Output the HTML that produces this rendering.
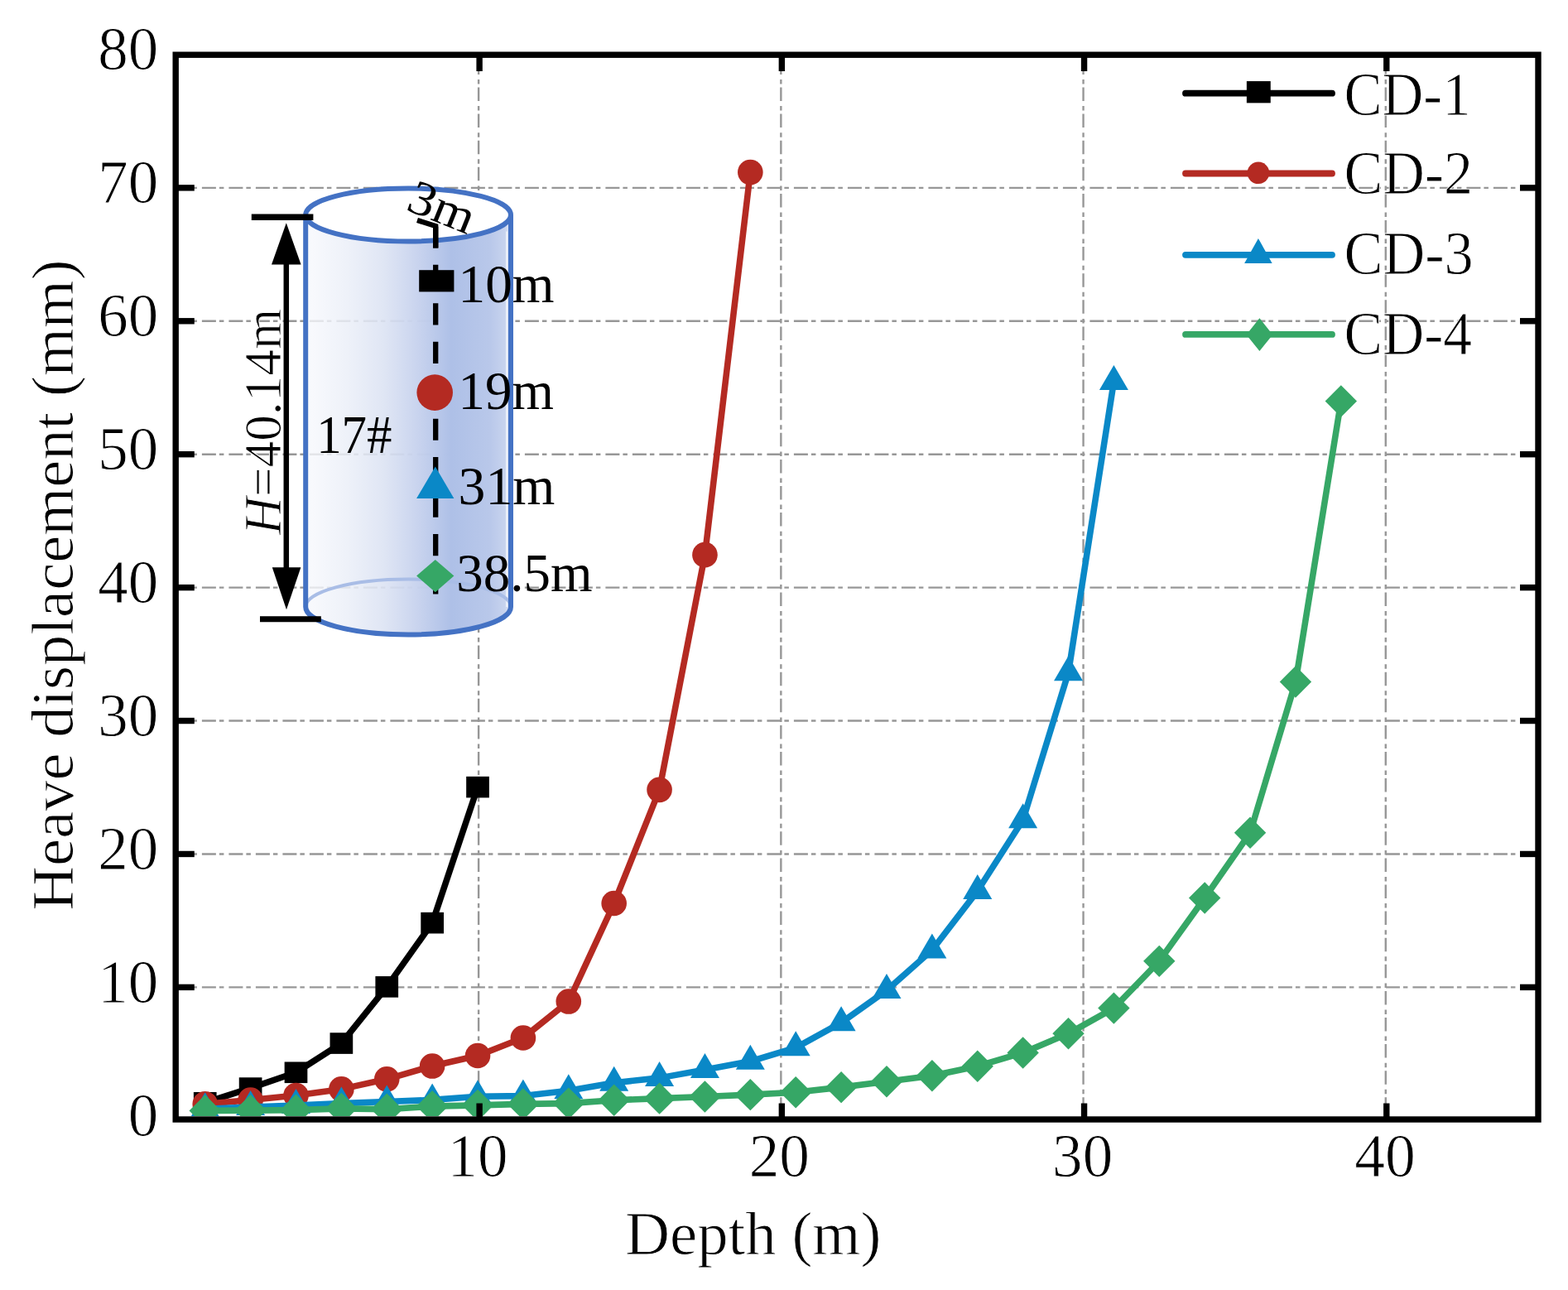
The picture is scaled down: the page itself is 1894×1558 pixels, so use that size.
<!DOCTYPE html><html><head><meta charset="utf-8"><title>Heave displacement vs depth</title><style>html,body{margin:0;padding:0;background:#fff;}body{width:1894px;height:1558px;overflow:hidden;}</style></head><body><svg width="1894" height="1558" viewBox="0 0 1894 1558" style="display:block;font-family:'Liberation Serif',serif">
<defs>
<linearGradient id="cg" x1="0" y1="0" x2="1" y2="0"><stop offset="0" stop-color="#F8F9FD" stop-opacity="0.8"/><stop offset="0.2" stop-color="#EBEFF8" stop-opacity="0.85"/><stop offset="0.38" stop-color="#DCE3F3" stop-opacity="0.9"/><stop offset="0.54" stop-color="#C8D3EE" stop-opacity="0.97"/><stop offset="0.71" stop-color="#AEC0E7"/><stop offset="0.9" stop-color="#B9C8EA"/><stop offset="0.97" stop-color="#C7D3EE"/><stop offset="1" stop-color="#E4EAF7"/></linearGradient>
<style>.t{stroke:#fff;stroke-width:0.9px;paint-order:normal}</style>
<clipPath id="plotclip"><rect x="216" y="70" width="1638" height="1278"/></clipPath>
</defs>
<rect width="1894" height="1558" fill="#fff"/>
<line x1="211.4" y1="1192.38" x2="1854" y2="1192.38" stroke="#979797" stroke-width="2.4" stroke-dasharray="17 4 5.5 6"/>
<line x1="211.4" y1="1031.46" x2="1854" y2="1031.46" stroke="#979797" stroke-width="2.4" stroke-dasharray="17 4 5.5 6"/>
<line x1="211.4" y1="870.54" x2="1854" y2="870.54" stroke="#979797" stroke-width="2.4" stroke-dasharray="17 4 5.5 6"/>
<line x1="211.4" y1="709.62" x2="1854" y2="709.62" stroke="#979797" stroke-width="2.4" stroke-dasharray="17 4 5.5 6"/>
<line x1="211.4" y1="548.70" x2="1854" y2="548.70" stroke="#979797" stroke-width="2.4" stroke-dasharray="17 4 5.5 6"/>
<line x1="211.4" y1="387.78" x2="1854" y2="387.78" stroke="#979797" stroke-width="2.4" stroke-dasharray="17 4 5.5 6"/>
<line x1="211.4" y1="226.86" x2="1854" y2="226.86" stroke="#979797" stroke-width="2.4" stroke-dasharray="17 4 5.5 6"/>
<line x1="578.12" y1="1341.8" x2="578.12" y2="70" stroke="#979797" stroke-width="2.4" stroke-dasharray="16.5 4 5.5 6.1"/>
<line x1="943.34" y1="1341.8" x2="943.34" y2="70" stroke="#979797" stroke-width="2.4" stroke-dasharray="16.5 4 5.5 6.1"/>
<line x1="1308.56" y1="1341.8" x2="1308.56" y2="70" stroke="#979797" stroke-width="2.4" stroke-dasharray="16.5 4 5.5 6.1"/>
<line x1="1673.78" y1="1341.8" x2="1673.78" y2="70" stroke="#979797" stroke-width="2.4" stroke-dasharray="16.5 4 5.5 6.1"/>
<path d="M369.2,259.5 L369.2,733.0 A123.9,33.5 0 0 0 617.0,733.0 L617.0,259.5 Z" fill="url(#cg)"/>
<line x1="612.0" y1="279.5" x2="612.0" y2="733.0" stroke="#fff" stroke-opacity="0.6" stroke-width="2"/>
<path d="M369.2,733.0 A123.9,33.5 0 0 1 617.0,733.0" fill="none" stroke="#A9BDE6" stroke-width="4"/>
<ellipse cx="493.1" cy="259.5" rx="123.9" ry="32.0" fill="#fff"/>
<path d="M369.2,259.5 L369.2,733.0 A123.9,33.5 0 0 0 617.0,733.0 L617.0,259.5" fill="none" stroke="#4472C4" stroke-width="6" stroke-linejoin="round"/>
<ellipse cx="493.1" cy="259.5" rx="123.9" ry="32.0" fill="none" stroke="#4472C4" stroke-width="6"/>
<line x1="303.8" y1="262.2" x2="378.4" y2="262.2" stroke="#000" stroke-width="7.5"/>
<line x1="314" y1="747.8" x2="387.8" y2="747.8" stroke="#000" stroke-width="7"/>
<line x1="345.8" y1="300" x2="345.8" y2="705" stroke="#000" stroke-width="6.5"/>
<polygon points="345.8,269.2 363.6,319.5 328.0,319.5" fill="#000"/>
<polygon points="346.0,736.3 363.4,685.2 328.8,685.2" fill="#000"/>
<polyline points="504,266 526.2,273 526.2,299.5" fill="none" stroke="#000" stroke-width="6.3" stroke-linejoin="miter"/>
<line x1="526.2" y1="273.4" x2="526.2" y2="717.5" stroke="#000" stroke-width="6.3" stroke-dasharray="26.2 20.25"/>
<rect x="506.2" y="326.2" width="42.2" height="26.2" fill="#000"/>
<circle cx="525.2" cy="474.1" r="21.8" fill="#B42A22"/>
<polygon points="525.8,563.4 548.4,602 503.1,602" fill="#0A88C7"/>
<polygon points="525.8,675.9 548.4,695.6 525.8,715.3 503.1,695.6" fill="#36A766"/>
<g clip-path="url(#plotclip)">
<polyline points="247.73,1331.79 302.61,1314.10 357.50,1295.28 412.38,1260.06 467.26,1191.87 522.15,1114.67 577.03,950.63" fill="none" stroke="#000000" stroke-width="7.6" stroke-linejoin="round" stroke-linecap="round"/>
<rect x="233.88" y="1318.99" width="27.7" height="25.6" fill="#000000"/>
<rect x="288.76" y="1301.30" width="27.7" height="25.6" fill="#000000"/>
<rect x="343.65" y="1282.48" width="27.7" height="25.6" fill="#000000"/>
<rect x="398.53" y="1247.26" width="27.7" height="25.6" fill="#000000"/>
<rect x="453.41" y="1179.07" width="27.7" height="25.6" fill="#000000"/>
<rect x="508.30" y="1101.87" width="27.7" height="25.6" fill="#000000"/>
<rect x="563.18" y="937.83" width="27.7" height="25.6" fill="#000000"/>
<polyline points="247.73,1333.40 302.61,1328.58 357.50,1322.95 412.38,1315.39 467.26,1303.33 522.15,1287.56 577.03,1275.02 631.91,1253.47 686.80,1209.56 741.68,1091.03 796.56,953.84 851.45,670.14 906.33,208.07" fill="none" stroke="#B42A22" stroke-width="7.6" stroke-linejoin="round" stroke-linecap="round"/>
<circle cx="247.73" cy="1333.40" r="15.3" fill="#B42A22"/>
<circle cx="302.61" cy="1328.58" r="15.3" fill="#B42A22"/>
<circle cx="357.50" cy="1322.95" r="15.3" fill="#B42A22"/>
<circle cx="412.38" cy="1315.39" r="15.3" fill="#B42A22"/>
<circle cx="467.26" cy="1303.33" r="15.3" fill="#B42A22"/>
<circle cx="522.15" cy="1287.56" r="15.3" fill="#B42A22"/>
<circle cx="577.03" cy="1275.02" r="15.3" fill="#B42A22"/>
<circle cx="631.91" cy="1253.47" r="15.3" fill="#B42A22"/>
<circle cx="686.80" cy="1209.56" r="15.3" fill="#B42A22"/>
<circle cx="741.68" cy="1091.03" r="15.3" fill="#B42A22"/>
<circle cx="796.56" cy="953.84" r="15.3" fill="#B42A22"/>
<circle cx="851.45" cy="670.14" r="15.3" fill="#B42A22"/>
<circle cx="906.33" cy="208.07" r="15.3" fill="#B42A22"/>
<polyline points="247.73,1339.19 302.61,1337.10 357.50,1335.01 412.38,1332.60 467.26,1330.51 522.15,1328.41 577.03,1324.23 631.91,1323.59 686.80,1317.16 741.68,1307.67 796.56,1301.88 851.45,1291.91 906.33,1281.77 961.21,1265.37 1016.10,1235.13 1070.98,1196.05 1125.86,1147.48 1180.75,1076.07 1235.63,990.35 1290.52,812.31 1345.40,460.90" fill="none" stroke="#0A88C7" stroke-width="7.6" stroke-linejoin="round" stroke-linecap="round"/>
<polygon points="247.73,1319.19 265.23,1349.19 230.23,1349.19" fill="#0A88C7"/>
<polygon points="302.61,1317.10 320.11,1347.10 285.11,1347.10" fill="#0A88C7"/>
<polygon points="357.50,1315.01 375.00,1345.01 340.00,1345.01" fill="#0A88C7"/>
<polygon points="412.38,1312.60 429.88,1342.60 394.88,1342.60" fill="#0A88C7"/>
<polygon points="467.26,1310.51 484.76,1340.51 449.76,1340.51" fill="#0A88C7"/>
<polygon points="522.15,1308.41 539.65,1338.41 504.65,1338.41" fill="#0A88C7"/>
<polygon points="577.03,1304.23 594.53,1334.23 559.53,1334.23" fill="#0A88C7"/>
<polygon points="631.91,1303.59 649.41,1333.59 614.41,1333.59" fill="#0A88C7"/>
<polygon points="686.80,1297.16 704.30,1327.16 669.30,1327.16" fill="#0A88C7"/>
<polygon points="741.68,1287.67 759.18,1317.67 724.18,1317.67" fill="#0A88C7"/>
<polygon points="796.56,1281.88 814.06,1311.88 779.06,1311.88" fill="#0A88C7"/>
<polygon points="851.45,1271.91 868.95,1301.91 833.95,1301.91" fill="#0A88C7"/>
<polygon points="906.33,1261.77 923.83,1291.77 888.83,1291.77" fill="#0A88C7"/>
<polygon points="961.21,1245.37 978.71,1275.37 943.71,1275.37" fill="#0A88C7"/>
<polygon points="1016.10,1215.13 1033.60,1245.13 998.60,1245.13" fill="#0A88C7"/>
<polygon points="1070.98,1176.05 1088.48,1206.05 1053.48,1206.05" fill="#0A88C7"/>
<polygon points="1125.86,1127.48 1143.36,1157.48 1108.36,1157.48" fill="#0A88C7"/>
<polygon points="1180.75,1056.07 1198.25,1086.07 1163.25,1086.07" fill="#0A88C7"/>
<polygon points="1235.63,970.35 1253.13,1000.35 1218.13,1000.35" fill="#0A88C7"/>
<polygon points="1290.52,792.31 1308.02,822.31 1273.02,822.31" fill="#0A88C7"/>
<polygon points="1345.40,440.90 1362.90,470.90 1327.90,470.90" fill="#0A88C7"/>
<polyline points="247.73,1341.44 302.61,1341.12 357.50,1340.64 412.38,1338.87 467.26,1339.67 522.15,1336.13 577.03,1334.85 631.91,1333.40 686.80,1332.60 741.68,1328.74 796.56,1326.65 851.45,1324.55 906.33,1322.14 961.21,1319.25 1016.10,1313.14 1070.98,1306.22 1125.86,1299.30 1180.75,1287.72 1235.63,1271.48 1290.52,1248.32 1345.40,1217.60 1400.28,1160.83 1455.17,1084.44 1510.05,1005.79 1564.93,823.57 1619.82,484.54" fill="none" stroke="#36A766" stroke-width="7.6" stroke-linejoin="round" stroke-linecap="round"/>
<polygon points="247.73,1322.24 266.93,1341.44 247.73,1360.64 228.53,1341.44" fill="#36A766"/>
<polygon points="302.61,1321.92 321.81,1341.12 302.61,1360.32 283.41,1341.12" fill="#36A766"/>
<polygon points="357.50,1321.44 376.70,1340.64 357.50,1359.84 338.30,1340.64" fill="#36A766"/>
<polygon points="412.38,1319.67 431.58,1338.87 412.38,1358.07 393.18,1338.87" fill="#36A766"/>
<polygon points="467.26,1320.47 486.46,1339.67 467.26,1358.87 448.06,1339.67" fill="#36A766"/>
<polygon points="522.15,1316.93 541.35,1336.13 522.15,1355.33 502.95,1336.13" fill="#36A766"/>
<polygon points="577.03,1315.65 596.23,1334.85 577.03,1354.05 557.83,1334.85" fill="#36A766"/>
<polygon points="631.91,1314.20 651.11,1333.40 631.91,1352.60 612.71,1333.40" fill="#36A766"/>
<polygon points="686.80,1313.40 706.00,1332.60 686.80,1351.80 667.60,1332.60" fill="#36A766"/>
<polygon points="741.68,1309.54 760.88,1328.74 741.68,1347.94 722.48,1328.74" fill="#36A766"/>
<polygon points="796.56,1307.45 815.76,1326.65 796.56,1345.85 777.36,1326.65" fill="#36A766"/>
<polygon points="851.45,1305.35 870.65,1324.55 851.45,1343.75 832.25,1324.55" fill="#36A766"/>
<polygon points="906.33,1302.94 925.53,1322.14 906.33,1341.34 887.13,1322.14" fill="#36A766"/>
<polygon points="961.21,1300.05 980.41,1319.25 961.21,1338.45 942.01,1319.25" fill="#36A766"/>
<polygon points="1016.10,1293.94 1035.30,1313.14 1016.10,1332.34 996.90,1313.14" fill="#36A766"/>
<polygon points="1070.98,1287.02 1090.18,1306.22 1070.98,1325.42 1051.78,1306.22" fill="#36A766"/>
<polygon points="1125.86,1280.10 1145.06,1299.30 1125.86,1318.50 1106.66,1299.30" fill="#36A766"/>
<polygon points="1180.75,1268.52 1199.95,1287.72 1180.75,1306.92 1161.55,1287.72" fill="#36A766"/>
<polygon points="1235.63,1252.28 1254.83,1271.48 1235.63,1290.68 1216.43,1271.48" fill="#36A766"/>
<polygon points="1290.52,1229.12 1309.72,1248.32 1290.52,1267.52 1271.32,1248.32" fill="#36A766"/>
<polygon points="1345.40,1198.40 1364.60,1217.60 1345.40,1236.80 1326.20,1217.60" fill="#36A766"/>
<polygon points="1400.28,1141.63 1419.48,1160.83 1400.28,1180.03 1381.08,1160.83" fill="#36A766"/>
<polygon points="1455.17,1065.24 1474.37,1084.44 1455.17,1103.64 1435.97,1084.44" fill="#36A766"/>
<polygon points="1510.05,986.59 1529.25,1005.79 1510.05,1024.99 1490.85,1005.79" fill="#36A766"/>
<polygon points="1564.93,804.37 1584.13,823.57 1564.93,842.77 1545.73,823.57" fill="#36A766"/>
<polygon points="1619.82,465.34 1639.02,484.54 1619.82,503.74 1600.62,484.54" fill="#36A766"/>
</g>
<rect x="212.2" y="66.2" width="1645.8" height="1285.8" fill="none" stroke="#000" stroke-width="7.4"/>
<line x1="212.2" y1="1192.38" x2="234.8" y2="1192.38" stroke="#000" stroke-width="7.4"/>
<line x1="1858.0" y1="1192.38" x2="1836" y2="1192.38" stroke="#000" stroke-width="7.4"/>
<line x1="212.2" y1="1031.46" x2="234.8" y2="1031.46" stroke="#000" stroke-width="7.4"/>
<line x1="1858.0" y1="1031.46" x2="1836" y2="1031.46" stroke="#000" stroke-width="7.4"/>
<line x1="212.2" y1="870.54" x2="234.8" y2="870.54" stroke="#000" stroke-width="7.4"/>
<line x1="1858.0" y1="870.54" x2="1836" y2="870.54" stroke="#000" stroke-width="7.4"/>
<line x1="212.2" y1="709.62" x2="234.8" y2="709.62" stroke="#000" stroke-width="7.4"/>
<line x1="1858.0" y1="709.62" x2="1836" y2="709.62" stroke="#000" stroke-width="7.4"/>
<line x1="212.2" y1="548.70" x2="234.8" y2="548.70" stroke="#000" stroke-width="7.4"/>
<line x1="1858.0" y1="548.70" x2="1836" y2="548.70" stroke="#000" stroke-width="7.4"/>
<line x1="212.2" y1="387.78" x2="234.8" y2="387.78" stroke="#000" stroke-width="7.4"/>
<line x1="1858.0" y1="387.78" x2="1836" y2="387.78" stroke="#000" stroke-width="7.4"/>
<line x1="212.2" y1="226.86" x2="234.8" y2="226.86" stroke="#000" stroke-width="7.4"/>
<line x1="1858.0" y1="226.86" x2="1836" y2="226.86" stroke="#000" stroke-width="7.4"/>
<line x1="579.12" y1="1352.0" x2="579.12" y2="1332.5" stroke="#000" stroke-width="7.4"/>
<line x1="579.12" y1="66.2" x2="579.12" y2="86" stroke="#000" stroke-width="7.4"/>
<line x1="944.34" y1="1352.0" x2="944.34" y2="1332.5" stroke="#000" stroke-width="7.4"/>
<line x1="944.34" y1="66.2" x2="944.34" y2="86" stroke="#000" stroke-width="7.4"/>
<line x1="1309.56" y1="1352.0" x2="1309.56" y2="1332.5" stroke="#000" stroke-width="7.4"/>
<line x1="1309.56" y1="66.2" x2="1309.56" y2="86" stroke="#000" stroke-width="7.4"/>
<line x1="1674.78" y1="1352.0" x2="1674.78" y2="1332.5" stroke="#000" stroke-width="7.4"/>
<line x1="1674.78" y1="66.2" x2="1674.78" y2="86" stroke="#000" stroke-width="7.4"/>
<line x1="1432" y1="112.7" x2="1609" y2="112.7" stroke="#000000" stroke-width="7.8" stroke-linecap="round"/>
<rect x="1505.85" y="98.05" width="28.9" height="26.3" fill="#000000"/>
<text transform="translate(1623.57,139.00) scale(0.9321,1)" style="font-size:74px" fill="#000" class="t" >CD-1</text>
<line x1="1432" y1="209.5" x2="1609" y2="209.5" stroke="#B42A22" stroke-width="7.8" stroke-linecap="round"/>
<circle cx="1519.90" cy="208.80" r="13.3" fill="#B42A22"/>
<text transform="translate(1623.53,234.00) scale(0.9465,1)" style="font-size:74px" fill="#000" class="t" >CD-2</text>
<line x1="1432" y1="307.8" x2="1609" y2="307.8" stroke="#0A88C7" stroke-width="7.8" stroke-linecap="round"/>
<polygon points="1519.90,287.90 1536.65,317.90 1503.15,317.90" fill="#0A88C7"/>
<text transform="translate(1623.52,331.30) scale(0.9501,1)" style="font-size:74px" fill="#000" class="t" >CD-3</text>
<line x1="1432" y1="403.9" x2="1609" y2="403.9" stroke="#36A766" stroke-width="7.8" stroke-linecap="round"/>
<polygon points="1521.40,384.35 1537.30,404.20 1521.40,424.05 1505.50,404.20" fill="#36A766"/>
<text transform="translate(1623.55,427.80) scale(0.9400,1)" style="font-size:74px" fill="#000" class="t" >CD-4</text>
<text transform="translate(154.77,1371.60) scale(1.0000,1)" style="font-size:73px" fill="#000" class="t" >0</text>
<text transform="translate(118.27,1210.68) scale(1.0000,1)" style="font-size:73px" fill="#000" class="t" >10</text>
<text transform="translate(118.27,1049.76) scale(1.0000,1)" style="font-size:73px" fill="#000" class="t" >20</text>
<text transform="translate(118.27,888.84) scale(1.0000,1)" style="font-size:73px" fill="#000" class="t" >30</text>
<text transform="translate(118.27,727.92) scale(1.0000,1)" style="font-size:73px" fill="#000" class="t" >40</text>
<text transform="translate(118.27,567.00) scale(1.0000,1)" style="font-size:73px" fill="#000" class="t" >50</text>
<text transform="translate(118.27,406.08) scale(1.0000,1)" style="font-size:73px" fill="#000" class="t" >60</text>
<text transform="translate(118.27,245.16) scale(1.0000,1)" style="font-size:73px" fill="#000" class="t" >70</text>
<text transform="translate(118.27,84.24) scale(1.0000,1)" style="font-size:73px" fill="#000" class="t" >80</text>
<text transform="translate(540.57,1420.70) scale(1.0015,1)" style="font-size:73px" fill="#000" class="t" >10</text>
<text transform="translate(904.67,1420.70) scale(1.0043,1)" style="font-size:73px" fill="#000" class="t" >20</text>
<text transform="translate(1271.09,1420.70) scale(1.0012,1)" style="font-size:73px" fill="#000" class="t" >30</text>
<text transform="translate(1636.23,1420.70) scale(1.0078,1)" style="font-size:73px" fill="#000" class="t" >40</text>
<text transform="translate(754.93,1515.10) scale(1.0042,1)" style="font-size:74.5px" fill="#000" class="t" >Depth (m)</text>
<text transform="translate(88.00,1099.76) rotate(-90) scale(1.0350,1)" style="font-size:72px" fill="#000" class="t" >Heave displacement (mm)</text>
<text transform="translate(553.55,365.20) scale(1.0123,1)" style="font-size:64.5px" fill="#000" >10m</text>
<text transform="translate(553.59,494.00) scale(1.0067,1)" style="font-size:64.5px" fill="#000" >19m</text>
<text transform="translate(553.55,608.50) scale(1.0185,1)" style="font-size:64.5px" fill="#000" >31m</text>
<text transform="translate(551.28,713.80) scale(1.0080,1)" style="font-size:64.5px" fill="#000" >38.5m</text>
<text transform="translate(382.13,547.00) scale(0.9454,1)" style="font-size:64.5px" fill="#000" >17#</text>
<text transform="translate(339.40,645.80) rotate(-90) scale(0.9966,1)" style="font-size:63.5px" fill="#000" class="t" ><tspan font-style="italic">H</tspan><tspan>=40.14m</tspan></text>
<text transform="translate(488.64,252.84) rotate(22) scale(1.0890,1)" style="font-size:59px" fill="#000" >3m</text>
</svg></body></html>
